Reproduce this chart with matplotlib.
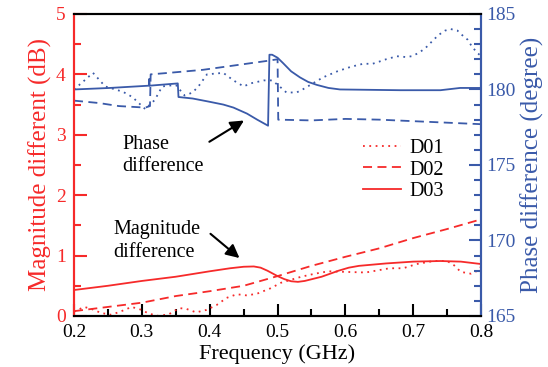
import numpy as np
import matplotlib.pyplot as plt
from matplotlib.ticker import MultipleLocator

RED = '#f62a2a'
BLUE = '#3a5aa9'
FONT = 'Liberation Serif'

# magnitude difference (dB), left axis
mag_d01_f = [0.2, 0.215, 0.225, 0.24, 0.255, 0.27, 0.285, 0.3, 0.31, 0.325, 0.34, 0.355, 0.365,
             0.38, 0.395, 0.41, 0.425, 0.44, 0.455, 0.47, 0.49, 0.505, 0.52, 0.535, 0.555, 0.575,
             0.6, 0.63, 0.665, 0.685, 0.705, 0.73, 0.75, 0.76, 0.77, 0.785, 0.795, 0.8]
mag_d01 = [0.07, 0.15, 0.12, 0.05, 0.02, 0.08, 0.15, 0.1, 0.04, 0.0, 0.03, 0.13, 0.12,
           0.06, 0.1, 0.18, 0.3, 0.36, 0.34, 0.37, 0.46, 0.55, 0.6, 0.65, 0.7, 0.74,
           0.73, 0.72, 0.79, 0.79, 0.86, 0.91, 0.91, 0.84, 0.73, 0.70, 0.75, 0.82]

mag_d02_f = [0.2, 0.25, 0.3, 0.35, 0.4, 0.45, 0.5, 0.55, 0.6, 0.65, 0.7, 0.75, 0.8]
mag_d02 = [0.08, 0.15, 0.22, 0.33, 0.41, 0.50, 0.66, 0.83, 0.98, 1.12, 1.29, 1.44, 1.6]

mag_d03_f = [0.2, 0.25, 0.3, 0.35, 0.4, 0.43, 0.45, 0.465, 0.475, 0.485, 0.5, 0.51, 0.52,
             0.53, 0.54, 0.565, 0.59, 0.605, 0.62, 0.66, 0.7, 0.74, 0.77, 0.8]
mag_d03 = [0.43, 0.5, 0.58, 0.65, 0.74, 0.79, 0.815, 0.82, 0.8, 0.75, 0.66, 0.61, 0.575,
           0.565, 0.58, 0.65, 0.75, 0.8, 0.83, 0.87, 0.90, 0.91, 0.90, 0.86]

# phase difference (degree), right axis
ph_d01_f = [0.2, 0.213, 0.228, 0.238, 0.246, 0.272, 0.286, 0.305, 0.312, 0.319, 0.33, 0.35,
            0.363, 0.375, 0.385, 0.396, 0.42, 0.435, 0.45, 0.46, 0.48, 0.492, 0.503, 0.513,
            0.528, 0.537, 0.552, 0.567, 0.588, 0.608, 0.626, 0.64, 0.647, 0.66, 0.676, 0.688,
            0.698, 0.707, 0.717, 0.728, 0.737, 0.747, 0.755, 0.765, 0.772, 0.78, 0.787, 0.795, 0.8]
ph_d01 = [180.0, 180.5, 181.1, 180.6, 180.2, 179.85, 179.5, 178.7, 179.0, 179.3, 180.2, 180.3,
          179.6, 179.8, 180.3, 181.0, 181.1, 180.6, 180.2, 180.4, 180.6, 180.6, 180.2, 179.8,
          179.8, 180.0, 180.4, 180.8, 181.2, 181.5, 181.7, 181.7, 181.8, 182.0, 182.2, 182.15,
          182.2, 182.4, 182.7, 183.2, 183.6, 183.9, 184.0, 183.9, 183.6, 183.3, 182.8, 182.4, 182.2]

ph_d02_f = [0.2, 0.237, 0.266, 0.305, 0.312, 0.313, 0.34, 0.39, 0.43, 0.486, 0.5, 0.501,
            0.55, 0.6, 0.65, 0.7, 0.75, 0.8]
ph_d02 = [179.26, 179.1, 178.9, 178.8, 178.9, 181.0, 181.1, 181.3, 181.55, 181.9, 182.0, 178.0,
          177.95, 178.05, 178.0, 177.9, 177.8, 177.7]

ph_d03_f = [0.2, 0.253, 0.3105, 0.311, 0.3115, 0.353, 0.354, 0.375, 0.398, 0.42, 0.435, 0.455,
            0.47, 0.48, 0.486, 0.488, 0.492, 0.5, 0.508, 0.52, 0.533, 0.545, 0.558, 0.575,
            0.592, 0.681, 0.74, 0.769, 0.8]
ph_d03 = [180.0, 180.1, 180.25, 180.7, 180.25, 180.4, 179.5, 179.4, 179.2, 179.0, 178.8, 178.4,
          178.0, 177.75, 177.6, 182.3, 182.3, 182.1, 181.75, 181.2, 180.8, 180.5, 180.3, 180.1,
          180.0, 179.95, 179.95, 180.1, 180.1]

plt.rcParams['font.family'] = FONT

fig = plt.figure(figsize=(5.48, 3.67), dpi=100)
ax = fig.add_axes([0.135, 0.139, 0.743, 0.823])
ax2 = ax.twinx()

ax.plot(mag_d01_f, mag_d01, color=RED, lw=1.3, ls=(0, (1, 2.5)), label='D01')
ax.plot(mag_d02_f, mag_d02, color=RED, lw=1.3, ls=(0, (5, 3)), label='D02')
ax.plot(mag_d03_f, mag_d03, color=RED, lw=1.3, ls='-', label='D03')

ax2.plot(ph_d01_f, ph_d01, color=BLUE, lw=1.3, ls=(0, (1, 2.5)))
ax2.plot(ph_d02_f, ph_d02, color=BLUE, lw=1.3, ls=(0, (5, 3)))
ax2.plot(ph_d03_f, ph_d03, color=BLUE, lw=1.3, ls='-')

ax.set_xlim(0.2, 0.8)
ax.set_ylim(0, 5)
ax2.set_ylim(165, 185)

ax.xaxis.set_major_locator(MultipleLocator(0.1))
ax.xaxis.set_minor_locator(MultipleLocator(0.05))
ax.yaxis.set_major_locator(MultipleLocator(1))
ax.yaxis.set_minor_locator(MultipleLocator(0.5))
ax2.yaxis.set_major_locator(MultipleLocator(5))
ax2.yaxis.set_minor_locator(MultipleLocator(1))

ax.tick_params(axis='x', which='major', direction='in', length=9, width=1.5, labelsize=14, pad=6)
ax.tick_params(axis='x', which='minor', direction='in', length=5, width=1.5)
ax.tick_params(axis='y', which='major', direction='in', length=9, width=1.5, colors=RED,
               labelsize=14, pad=6)
ax.tick_params(axis='y', which='minor', direction='in', length=5, width=1.5, colors=RED)
ax2.tick_params(axis='y', which='major', direction='in', length=9, width=1.5, colors=BLUE,
                labelsize=14, pad=4)
ax2.tick_params(axis='y', which='minor', direction='in', length=5, width=1.5, colors=BLUE)

ax.set_xticks([0.2, 0.3, 0.4, 0.5, 0.6, 0.7, 0.8])
ax.set_xticklabels(['0.2', '0.3', '0.4', '0.5', '0.6', '0.7', '0.8'])

for a in (ax, ax2):
    for s in a.spines.values():
        s.set_linewidth(1.5)
ax2.spines['left'].set_color(RED)
ax2.spines['right'].set_color(BLUE)
ax.spines['left'].set_color(RED)
ax.spines['right'].set_color(BLUE)

ax.set_xlabel('Frequency (GHz)', fontsize=16, labelpad=2)
ax.set_ylabel('Magnitude different (dB)', fontsize=18, color=RED, labelpad=3)
ax2.set_ylabel('Phase difference (degree)', fontsize=18, color=BLUE, labelpad=3)

ax.text(0.271, 2.66, 'Phase\ndifference', fontsize=14.5, ha='left', va='center',
        linespacing=1.25)
ax.annotate('', xy=(0.454, 3.26), xytext=(0.396, 2.86),
            arrowprops=dict(arrowstyle='-|>', color='black', lw=1.5, mutation_scale=20))
ax.text(0.258, 1.24, 'Magnitude\ndifference', fontsize=14.5, ha='left', va='center',
        linespacing=1.25)
ax.annotate('', xy=(0.447, 0.93), xytext=(0.398, 1.39),
            arrowprops=dict(arrowstyle='-|>', color='black', lw=1.5, mutation_scale=20))

ax.legend(loc='upper left', bbox_to_anchor=(0.71, 0.585), frameon=False, fontsize=14.5,
          handlelength=1.9, handletextpad=0.4, labelspacing=0.1, borderaxespad=0,
          borderpad=0)

fig.savefig('out.png', dpi=100)
